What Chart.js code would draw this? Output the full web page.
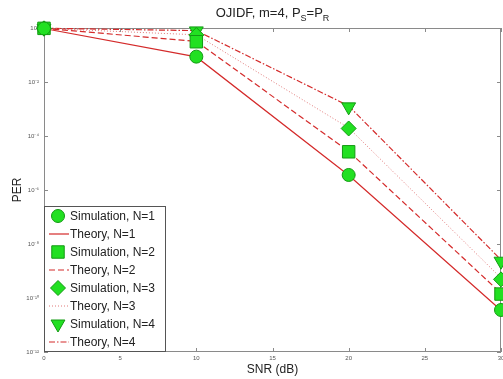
<!DOCTYPE html>
<html>
<head>
<meta charset="utf-8">
<script src="https://cdn.jsdelivr.net/npm/chart.js@4/dist/chart.umd.min.js"></script>
<style>
  html, body { margin: 0; padding: 0; background: #fff; }
  #wrap { width: 503px; height: 379px; }
</style>
</head>
<body>
<div id="wrap"><canvas id="per"></canvas></div>
<script>
// SNR points (dB) and PER values
var snr      = [0, 10, 20, 30];
var simN1    = [0.96, 0.087, 3.6e-6, 3.6e-11];
var simN2    = [0.97, 0.31, 2.6e-5, 1.4e-10];
var simN3    = [0.97, 0.55, 1.9e-4, 4.9e-10];
var simN4    = [0.98, 0.78, 1.2e-3, 2.3e-9];
var theoryN1 = [0.96, 0.085, 3.5e-6, 3.5e-11];
var theoryN2 = [0.97, 0.32, 2.7e-5, 1.5e-10];
var theoryN3 = [0.97, 0.56, 2.0e-4, 5.5e-10];
var theoryN4 = [0.98, 0.80, 1.3e-3, 2.6e-9];
var xTicks   = [0, 5, 10, 15, 20, 25, 30];
var yTicks   = [1, 1e-2, 1e-4, 1e-6, 1e-8, 1e-10, 1e-12];
var yTickLabels = ['10\u2070', '10\u207B\u00B2', '10\u207B\u2074', '10\u207B\u2076', '10\u207B\u2078', '10\u207B\u00B9\u2070', '10\u207B\u00B9\u00B2'];

var RED = '#d42a2a';
var GREEN = '#22e022';
var GREEN_EDGE = '#139a13';

function pts(ys) {
    return snr.map(function(x, i) { return {x: x, y: ys[i]}; });
}

function sim(label, ys, style, r, rot) {
    return {
        label: label, data: pts(ys), showLine: false, clip: false,
        pointStyle: style, pointRadius: r, pointHoverRadius: r, pointRotation: rot || 0,
        backgroundColor: GREEN, borderColor: GREEN_EDGE, pointBorderWidth: 1
    };
}

function theory(label, ys, dash, color, width) {
    return {
        label: label, data: pts(ys), showLine: true, clip: false, fill: false,
        borderColor: color, borderWidth: width, borderDash: dash,
        pointRadius: 0, pointHoverRadius: 0, tension: 0
    };
}

// title with subscripts
var titlePlugin = {
    id: 'subTitle',
    afterDraw: function(chart) {
        var ctx = chart.ctx, ca = chart.chartArea;
        var big = '13px "Liberation Sans", Arial, sans-serif';
        var small = '9px "Liberation Sans", Arial, sans-serif';
        var parts = [['OJIDF, m=4, P', big, 0], ['S', small, 4], ['=P', big, 0], ['R', small, 4]];
        var total = 0;
        parts.forEach(function(p) { ctx.font = p[1]; total += ctx.measureText(p[0]).width; });
        var x = (ca.left + ca.right) / 2 - total / 2, y = 17;
        ctx.save();
        ctx.fillStyle = '#222';
        ctx.textBaseline = 'alphabetic';
        parts.forEach(function(p) {
            ctx.font = p[1];
            ctx.fillText(p[0], x, y + p[2]);
            x += ctx.measureText(p[0]).width;
        });
        ctx.restore();
    }
};

// frame with inward tick marks on all four sides
var framePlugin = {
    id: 'frame',
    beforeDatasetsDraw: function(chart) {
        var ctx = chart.ctx, ca = chart.chartArea;
        var xs = chart.scales.x, ys = chart.scales.y;
        ctx.save();
        ctx.strokeStyle = '#8a8a8a';
        ctx.lineWidth = 1;
        ctx.strokeRect(ca.left + 0.5, ca.top + 0.5, ca.right - ca.left - 1, ca.bottom - ca.top - 1);
        ctx.beginPath();
        xTicks.forEach(function(v) {
            var px = Math.round(xs.getPixelForValue(v)) + 0.5;
            ctx.moveTo(px, ca.bottom); ctx.lineTo(px, ca.bottom - 4);
            ctx.moveTo(px, ca.top); ctx.lineTo(px, ca.top + 4);
        });
        yTicks.forEach(function(v) {
            var py = Math.round(ys.getPixelForValue(v)) + 0.5;
            ctx.moveTo(ca.left, py); ctx.lineTo(ca.left + 4, py);
            ctx.moveTo(ca.right, py); ctx.lineTo(ca.right - 4, py);
        });
        ctx.stroke();
        ctx.restore();
    }
};

// legend box in the lower-left corner of the plot
var legendPlugin = {
    id: 'boxLegend',
    afterDraw: function(chart) {
        var ctx = chart.ctx, ca = chart.chartArea;
        var sets = chart.data.datasets;
        var rowH = 18, w = 121, h = sets.length * rowH + 2;
        var x0 = ca.left, y0 = ca.bottom - h;
        ctx.save();
        ctx.fillStyle = '#fff';
        ctx.fillRect(x0, y0, w, h);
        ctx.strokeStyle = '#555';
        ctx.lineWidth = 1;
        ctx.strokeRect(x0 + 0.5, y0 + 0.5, w, h - 1);
        ctx.font = '12px "Liberation Sans", Arial, sans-serif';
        ctx.textBaseline = 'middle';
        sets.forEach(function(ds, i) {
            var cy = y0 + 10 + i * rowH;
            if (ds.showLine) {
                ctx.strokeStyle = ds.borderColor;
                ctx.lineWidth = ds.borderWidth;
                ctx.setLineDash(ds.borderDash || []);
                ctx.beginPath();
                ctx.moveTo(x0 + 5, cy); ctx.lineTo(x0 + 25, cy);
                ctx.stroke();
                ctx.setLineDash([]);
            } else {
                ctx.fillStyle = ds.backgroundColor;
                ctx.strokeStyle = ds.borderColor;
                ctx.lineWidth = 1;
                Chart.helpers.drawPoint(ctx, {pointStyle: ds.pointStyle, radius: ds.pointRadius, rotation: ds.pointRotation, borderWidth: 1}, x0 + 14, cy);
            }
            ctx.fillStyle = '#222';
            ctx.fillText(ds.label, x0 + 26, cy + 1);
        });
        ctx.restore();
    }
};

new Chart(document.getElementById('per'), {
    type: 'scatter',
    data: {
        datasets: [
            sim('Simulation, N=1', simN1, 'circle', 6.5),
            theory('Theory, N=1', theoryN1, [], RED, 1.2),
            sim('Simulation, N=2', simN2, 'rect', 8.8),
            theory('Theory, N=2', theoryN2, [6, 3], RED, 1.2),
            sim('Simulation, N=3', simN3, 'rectRot', 7.5),
            theory('Theory, N=3', theoryN3, [1, 2], '#e07878', 1),
            sim('Simulation, N=4', simN4, 'triangle', 8, 180),
            theory('Theory, N=4', theoryN4, [6, 2, 1.5, 2], RED, 1.2)
        ]
    },
    options: {
        responsive: true,
        maintainAspectRatio: false,
        animation: false,
        layout: { autoPadding: false, padding: { top: 28, right: 2, left: 0, bottom: 0 } },
        plugins: { legend: { display: false }, title: { display: false }, tooltip: { enabled: false } },
        scales: {
            x: {
                type: 'linear', min: 0, max: 30,
                afterFit: function(s) { s.height = 27; s.paddingLeft = 0; s.paddingRight = 0; },
                afterBuildTicks: function(s) { s.ticks = xTicks.map(function(v) { return {value: v}; }); },
                grid: { display: false, drawTicks: false },
                border: { display: false },
                ticks: { font: { size: 6, family: 'Liberation Sans' }, color: '#555', padding: 3, maxRotation: 0 },
                title: { display: true, text: 'SNR (dB)', font: { size: 12, family: 'Liberation Sans' }, color: '#222', padding: { top: 0, bottom: 2 } }
            },
            y: {
                type: 'logarithmic', min: 1e-12, max: 1,
                afterFit: function(s) { s.width = 44; s.paddingTop = 0; s.paddingBottom = 0; },
                afterBuildTicks: function(s) { s.ticks = yTicks.map(function(v) { return {value: v}; }); },
                grid: { display: false, drawTicks: false },
                border: { display: false },
                ticks: {
                    font: { size: 6, family: 'Liberation Sans' }, color: '#555', padding: 5,
                    callback: function(v) { var i = yTicks.indexOf(v); return i >= 0 ? yTickLabels[i] : ''; }
                },
                title: { display: true, text: 'PER', font: { size: 12, family: 'Liberation Sans' }, color: '#222', padding: { top: 10, bottom: 0 } }
            }
        }
    },
    plugins: [framePlugin, titlePlugin, legendPlugin]
});
</script>
</body>
</html>
